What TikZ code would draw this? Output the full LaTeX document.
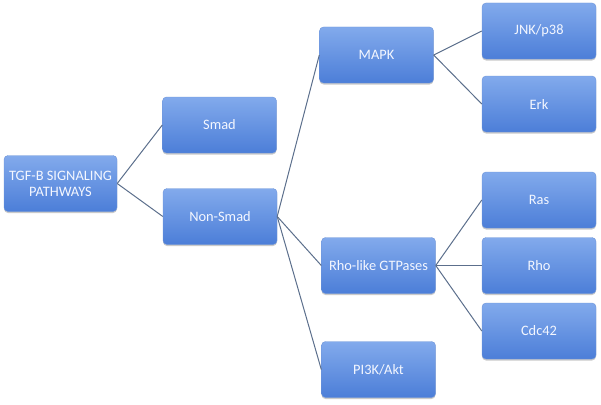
\documentclass[tikz,border=0pt]{standalone}
\usepackage{fontspec}
\setmainfont{Carlito}
\usetikzlibrary{shadows}
\definecolor{topblue}{HTML}{82AAEC}
\definecolor{botblue}{HTML}{4C7ED8}
\definecolor{edgeblue}{HTML}{6F95D8}
\definecolor{linecol}{HTML}{5C6F8C}
\definecolor{txtcol}{HTML}{F4F7FF}
\begin{document}
\begin{tikzpicture}[x=1pt,y=-1pt,
  box/.style={draw=edgeblue, line width=0.4pt, rounded corners=4pt,
    top color=topblue, bottom color=botblue, minimum width=#1, minimum height=56pt,
    text=txtcol, font=\fontsize{14.4}{16}\selectfont, align=center, inner sep=2pt,
    drop shadow={shadow xshift=0pt, shadow yshift=-1.5pt, opacity=0.35, fill=black!60}},
  box/.default=114pt,
  conn/.style={draw=linecol, line width=1pt}]
\useasboundingbox (0,0) rectangle (601,404);
\node[box=113pt] (tgf) at (60.5,183.5) {TGF-B SIGNALING\\PATHWAYS};
\node[box] (smad) at (219.5,125) {Smad};
\node[box] (nonsmad) at (220,216.5) {Non-Smad};
\node[box] (mapk) at (376.5,55) {MAPK};
\node[box] (rholike) at (378.5,265.5) {Rho-like GTPases};
\node[box] (pi3k) at (378.5,369.5) {PI3K/Akt};
\node[box] (jnk) at (539,31) {JNK/p38};
\node[box] (erk) at (539,104) {Erk};
\node[box] (ras) at (539,200) {Ras};
\node[box] (rho) at (539,265.5) {Rho};
\node[box] (cdc) at (539,331) {Cdc42};
\draw[conn] (tgf.east) -- (smad.west);
\draw[conn] (tgf.east) -- (nonsmad.west);
\draw[conn] (nonsmad.east) -- (mapk.west);
\draw[conn] (nonsmad.east) -- (rholike.west);
\draw[conn] (nonsmad.east) -- (pi3k.west);
\draw[conn] (mapk.east) -- (jnk.west);
\draw[conn] (mapk.east) -- (erk.west);
\draw[conn] (rholike.east) -- (ras.west);
\draw[conn] (rholike.east) -- (rho.west);
\draw[conn] (rholike.east) -- (cdc.west);
\end{tikzpicture}
\end{document}
